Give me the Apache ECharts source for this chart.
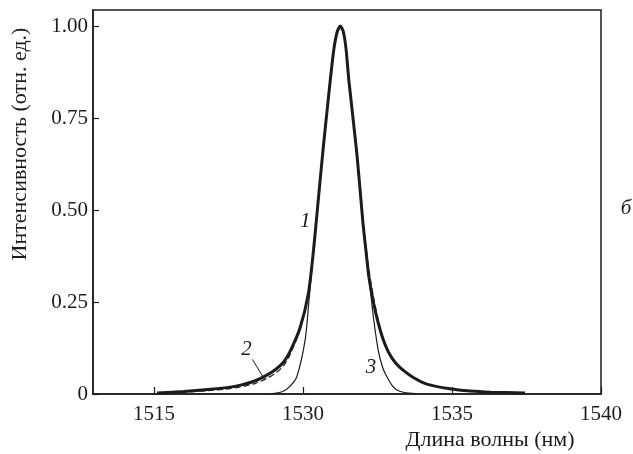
<!DOCTYPE html>
<html>
<head>
<meta charset="utf-8">
<script src="https://cdn.jsdelivr.net/npm/echarts@6/dist/echarts.min.js"></script>
<style>
  html, body { margin: 0; padding: 0; background: #fff; }
  #chart { width: 633px; height: 454px; }
</style>
</head>
<body>
<div id="chart"></div>
<script>
// Curve 1: measured luminescence spectrum (thick line)
const wavelength1 = [1525.1, 1526.0, 1526.8, 1527.5, 1527.9, 1528.4, 1528.8, 1529.1, 1529.35, 1529.56, 1529.9,
  1530.18, 1530.35, 1530.51, 1530.67, 1530.91, 1531.04, 1531.15, 1531.25, 1531.35, 1531.44, 1531.54,
  1531.81, 1532.01, 1532.11, 1532.21, 1532.36, 1532.5, 1532.68, 1532.86, 1533.1, 1533.4, 1533.7,
  1534.15, 1534.93, 1535.6, 1536.3, 1537.45];
const intensity1 = [0.003, 0.007, 0.012, 0.018, 0.024, 0.036, 0.052, 0.068, 0.087, 0.115, 0.18,
  0.274, 0.39, 0.527, 0.663, 0.85, 0.94, 0.985, 1.0, 0.985, 0.94, 0.85,
  0.65, 0.465, 0.39, 0.318, 0.25, 0.2, 0.15, 0.115, 0.085, 0.062, 0.045,
  0.027, 0.014, 0.008, 0.005, 0.003];

// Curve 2: approximation (dashed line)
const wavelength2 = [1525.3, 1526.0, 1526.8, 1527.5, 1527.9, 1528.4, 1528.8, 1529.1, 1529.35, 1529.56, 1529.9,
  1530.18, 1530.35, 1530.51, 1530.67, 1530.91, 1531.04, 1531.15, 1531.25, 1531.35, 1531.44, 1531.54,
  1531.81, 1532.01, 1532.11, 1532.21, 1532.36, 1532.5, 1532.68, 1532.86, 1533.1, 1533.4, 1533.7,
  1534.15, 1534.93, 1535.6, 1536.3, 1537.4];
const intensity2 = [0.002, 0.005, 0.009, 0.014, 0.019, 0.029, 0.043, 0.058, 0.077, 0.106, 0.175,
  0.272, 0.39, 0.527, 0.663, 0.85, 0.94, 0.985, 1.0, 0.985, 0.94, 0.852,
  0.655, 0.475, 0.405, 0.338, 0.265, 0.21, 0.155, 0.117, 0.086, 0.062, 0.045,
  0.027, 0.014, 0.008, 0.005, 0.003];

// Curve 3: narrow component (thin line)
const wavelength3 = [1528.9, 1529.3, 1529.55, 1529.79, 1530.07, 1530.2, 1530.35, 1530.51, 1530.67, 1530.91,
  1531.04, 1531.15, 1531.25, 1531.35, 1531.44, 1531.54, 1531.81, 1532.01, 1532.11, 1532.25, 1532.36,
  1532.52, 1532.68, 1532.82, 1533.0, 1533.15, 1533.4, 1533.8];
const intensity3 = [0.0, 0.006, 0.02, 0.047, 0.147, 0.255, 0.39, 0.527, 0.663, 0.85,
  0.94, 0.985, 1.0, 0.985, 0.94, 0.85, 0.65, 0.465, 0.39, 0.29, 0.21,
  0.12, 0.07, 0.046, 0.022, 0.011, 0.004, 0.001];

// Axis ticks and their printed labels
const xTicks = [1525, 1530, 1535, 1540];
const xTickLabels = ['1515', '1530', '1535', '1540'];
const yTicks = [0, 0.25, 0.5, 0.75, 1.0];
const yTickLabels = ['0', '0.25', '0.50', '0.75', '1.00'];

// Curve numbers placed in data coordinates
const curveLabels = [
  { name: '1', coord: [1530.07, 0.47] },
  { name: '2', coord: [1528.1, 0.12] },
  { name: '3', coord: [1532.28, 0.071] }
];
// Leader from label 2 to the dashed curve
const leader2 = [[1528.3, 0.094], [1528.7, 0.041]];

const zip = (xs, ys) => xs.map((x, i) => [x, ys[i]]);

const INK = '#1c1c1c';
const SERIF = '"Liberation Serif", "DejaVu Serif", serif';

const chart = echarts.init(document.getElementById('chart'), null, { renderer: 'canvas' });

chart.setOption({
  backgroundColor: '#ffffff',
  animation: false,
  grid: {
    left: 93, right: 32, top: 10, bottom: 60,
    show: true, borderColor: INK, borderWidth: 1.5
  },
  xAxis: {
    type: 'value',
    min: 1522.95,
    max: 1540,
    axisLine: { show: true, lineStyle: { color: INK, width: 1.5 } },
    splitLine: { show: false },
    axisTick: {
      show: true, inside: true, length: 7, customValues: xTicks,
      lineStyle: { color: INK, width: 1.2 }
    },
    axisLabel: {
      customValues: xTicks,
      margin: 10,
      color: INK,
      fontFamily: SERIF,
      fontSize: 21,
      formatter: (v) => xTickLabels[xTicks.indexOf(v)]
    }
  },
  yAxis: {
    type: 'value',
    min: 0,
    max: 1.0435,
    axisLine: { show: true, lineStyle: { color: INK, width: 1.5 } },
    splitLine: { show: false },
    axisTick: {
      show: true, inside: true, length: 6, customValues: yTicks,
      lineStyle: { color: INK, width: 1.2 }
    },
    axisLabel: {
      customValues: yTicks,
      margin: 5,
      color: INK,
      fontFamily: SERIF,
      fontSize: 21,
      formatter: (v) => yTickLabels[yTicks.indexOf(v)]
    }
  },
  series: [
    {
      name: '3',
      type: 'line',
      data: zip(wavelength3, intensity3),
      showSymbol: false,
      smooth: 0.25,
      lineStyle: { color: INK, width: 1.2 },
      z: 2
    },
    {
      name: '1',
      type: 'line',
      data: zip(wavelength1, intensity1),
      showSymbol: false,
      smooth: 0.25,
      lineStyle: { color: INK, width: 3 },
      z: 3,
      markPoint: {
        symbol: 'circle',
        symbolSize: 0,
        silent: true,
        label: {
          show: true,
          position: 'inside',
          formatter: (p) => p.name,
          color: INK,
          fontFamily: SERIF,
          fontStyle: 'italic',
          fontSize: 21
        },
        data: curveLabels
      }
    },
    {
      name: '2',
      type: 'line',
      data: zip(wavelength2, intensity2),
      showSymbol: false,
      smooth: 0.25,
      lineStyle: { color: INK, width: 1.2, type: [6, 3] },
      z: 4,
      markLine: {
        silent: true,
        symbol: ['none', 'none'],
        label: { show: false },
        lineStyle: { color: INK, width: 1, type: 'solid' },
        data: [[{ coord: leader2[0] }, { coord: leader2[1] }]]
      }
    }
  ],
  graphic: [
    {
      type: 'text',
      x: 20, y: 144,
      rotation: Math.PI / 2,
      style: {
        text: 'Интенсивность (отн. ед.)',
        fill: INK,
        font: '22px ' + SERIF,
        align: 'center',
        verticalAlign: 'middle'
      }
    },
    {
      type: 'text',
      x: 490, y: 440,
      style: {
        text: 'Длина волны (нм)',
        fill: INK,
        font: '22px ' + SERIF,
        align: 'center',
        verticalAlign: 'middle'
      }
    },
    {
      type: 'text',
      x: 626, y: 208,
      style: {
        text: 'б',
        fill: INK,
        font: 'italic 21px ' + SERIF,
        align: 'center',
        verticalAlign: 'middle'
      }
    }
  ]
});
</script>
</body>
</html>
